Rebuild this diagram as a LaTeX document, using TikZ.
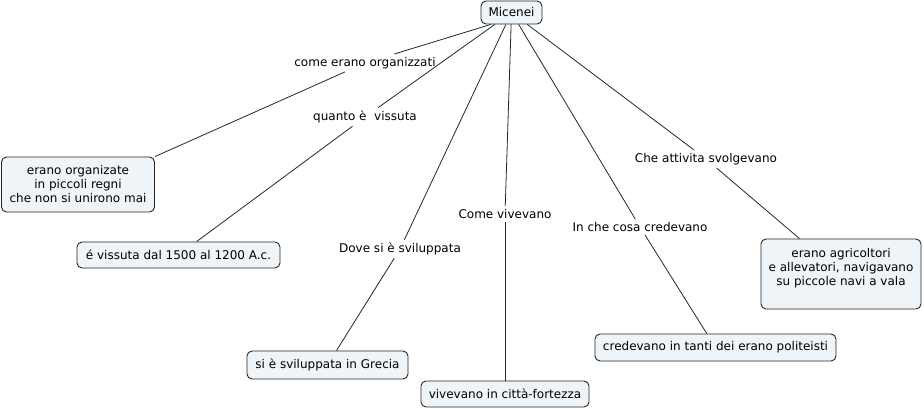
\documentclass[tikz,border=0pt]{standalone}
\usepackage{fontspec}
\setmainfont{DejaVu Sans}
\begin{document}
\begin{tikzpicture}[x=1pt,y=-1pt,
  concept/.style={draw=black!85,fill=boxfill,rounded corners=5pt,line width=0.9pt,
    inner sep=0pt,align=center,font=\fontsize{12}{14}\selectfont},
  linkph/.style={inner sep=3pt,font=\fontsize{12}{14}\selectfont},
  conn/.style={draw=black!85,line width=0.8pt}]
\definecolor{boxfill}{HTML}{EEF4F7}
\useasboundingbox (0,0) rectangle (924,409);
% concepts
\node[concept,minimum width=61pt,minimum height=23pt] (mic) at (511.5,12.5) {Micenei};
\node[concept,minimum width=153pt,minimum height=55pt] (org) at (78,184.5) {erano organizate\\in piccoli regni\\che non si unirono mai};
\node[concept,minimum width=203pt,minimum height=26pt] (viss) at (178.5,255) {é vissuta dal 1500 al 1200 A.c.};
\node[concept,minimum width=161pt,minimum height=28pt] (gre) at (327.5,365) {si è sviluppata in Grecia};
\node[concept,minimum width=168pt,minimum height=26pt] (viv) at (505,394) {vivevano in città-fortezza};
\node[concept,minimum width=241pt,minimum height=27pt] (cred) at (715.5,347.5) {credevano in tanti dei erano politeisti};
\node[concept,minimum width=160pt,minimum height=70pt] (agr) at (841,274) {erano agricoltori\\e allevatori, navigavano\\su piccole navi a vala\\[0pt]\mbox{}};
% linking phrases
\node[linkph] (l1) at (365,63) {come erano organizzati};
\node[linkph] (l2) at (365,117) {quanto è\ \ vissuta};
\node[linkph] (l3) at (400,249) {Dove si è sviluppata};
\node[linkph] (l4) at (505,214) {Come vivevano};
\node[linkph] (l5) at (640,227) {In che cosa credevano};
\node[linkph] (l6) at (706,159) {Che attivita svolgevano};
% connectors
\draw[conn] (mic.210) -- (l1);
\draw[conn] (l1) -- (org.north east);
\draw[conn] (mic) -- (l2);
\draw[conn] (l2) -- (viss);
\draw[conn] (mic) -- (l3);
\draw[conn] (l3) -- (gre);
\draw[conn] (mic) -- (l4);
\draw[conn] (l4) -- (viv);
\draw[conn] (mic) -- (l5);
\draw[conn] (l5) -- (cred);
\draw[conn] (mic) -- (l6);
\draw[conn] (l6) -- (agr);
\end{tikzpicture}
\end{document}
